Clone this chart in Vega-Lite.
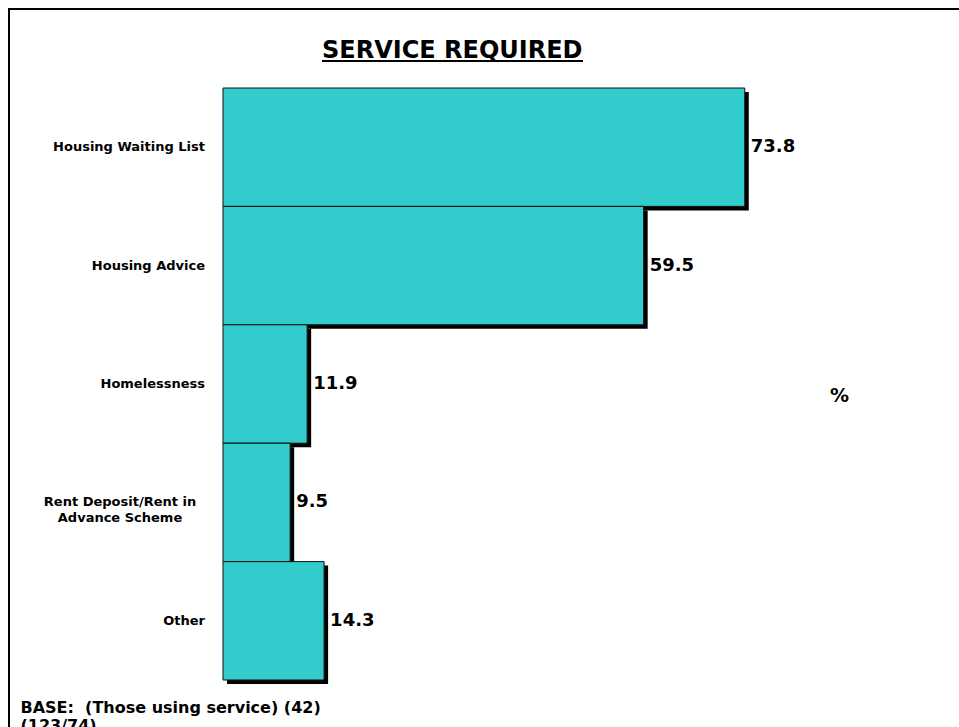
{
  "$schema": "https://vega.github.io/schema/vega-lite/v6.json",
  "autosize": {"type": "none"},
  "padding": {"left": 9, "top": 9, "right": 0, "bottom": 0},
  "width": 960,
  "height": 730,
  "background": "white",
  "config": {
    "view": {"stroke": "black", "strokeWidth": 2},
    "font": "DejaVu Sans"
  },
  "title": {
    "text": "SERVICE REQUIRED",
    "anchor": "start",
    "frame": "group",
    "dx": 313,
    "dy": 73,
    "offset": 0,
    "baseline": "alphabetic",
    "fontSize": 24,
    "fontWeight": "bold",
    "font": "DejaVu Sans",
    "color": "black"
  },
  "data": {
    "values": [
      {"service": "Housing Waiting List", "label": "Housing Waiting List", "pct": 73.8},
      {"service": "Housing Advice", "label": "Housing Advice", "pct": 59.5},
      {"service": "Homelessness", "label": "Homelessness", "pct": 11.9},
      {"service": "Rent Deposit/Rent in Advance Scheme", "label": "Rent Deposit/Rent in\nAdvance Scheme", "pct": 9.5},
      {"service": "Other", "label": "Other", "pct": 14.3}
    ]
  },
  "encoding": {
    "y": {
      "field": "service",
      "type": "nominal",
      "sort": null,
      "scale": {"range": [79, 671], "paddingInner": 0, "paddingOuter": 0},
      "axis": {
        "title": ["BASE:\u00a0 (Those using service) (42)", "(123/74)"],
        "titleAngle": 0,
        "titleX": 11,
        "titleY": 703,
        "titleAlign": "left",
        "titleBaseline": "alphabetic",
        "titleFontSize": 16,
        "titleFontWeight": "bold",
        "titleColor": "black",
        "titleFont": "DejaVu Sans",
        "titleLineHeight": 18,
        "labels": false,
        "ticks": false,
        "domain": false,
        "grid": false
      }
    },
    "x": {
      "field": "pct",
      "type": "quantitative",
      "scale": {"domain": [0, 100], "range": [214, 921]},
      "axis": {
        "title": "%",
        "titleX": 830,
        "titleY": -344,
        "titleAlign": "center",
        "titleBaseline": "middle",
        "titleFontSize": 19,
        "titleFontWeight": "bold",
        "titleColor": "black",
        "titleFont": "DejaVu Sans",
        "labels": false,
        "ticks": false,
        "domain": false,
        "grid": false
      }
    }
  },
  "layer": [
    {
      "mark": {"type": "bar", "fill": "black", "stroke": null, "xOffset": 4, "yOffset": 4}
    },
    {
      "mark": {"type": "bar", "fill": "#33CCCC", "stroke": "#111111", "strokeWidth": 1}
    },
    {
      "mark": {"type": "text", "align": "left", "baseline": "middle", "dx": 6, "fontSize": 18, "fontWeight": "bold", "color": "black"},
      "encoding": {"text": {"field": "pct", "type": "quantitative", "format": ".1f"}}
    },
    {
      "transform": [{"filter": "datum.service != 'Rent Deposit/Rent in Advance Scheme'"}],
      "mark": {"type": "text", "align": "right", "baseline": "middle", "dx": -18, "fontSize": 13, "fontWeight": "bold", "color": "black", "lineBreak": "\n", "lineHeight": 16},
      "encoding": {"x": {"datum": 0}, "text": {"field": "label"}}
    },
    {
      "transform": [{"filter": "datum.service == 'Rent Deposit/Rent in Advance Scheme'"}],
      "mark": {"type": "text", "align": "center", "baseline": "middle", "dx": -103, "fontSize": 13, "fontWeight": "bold", "color": "black", "lineBreak": "\n", "lineHeight": 16},
      "encoding": {"x": {"datum": 0}, "text": {"field": "label"}}
    },
    {
      "data": {"values": [{}]},
      "mark": {"type": "rule", "color": "black", "strokeWidth": 2},
      "encoding": {"x": {"value": 313}, "x2": {"value": 574}, "y": {"value": 52}}
    }
  ]
}
